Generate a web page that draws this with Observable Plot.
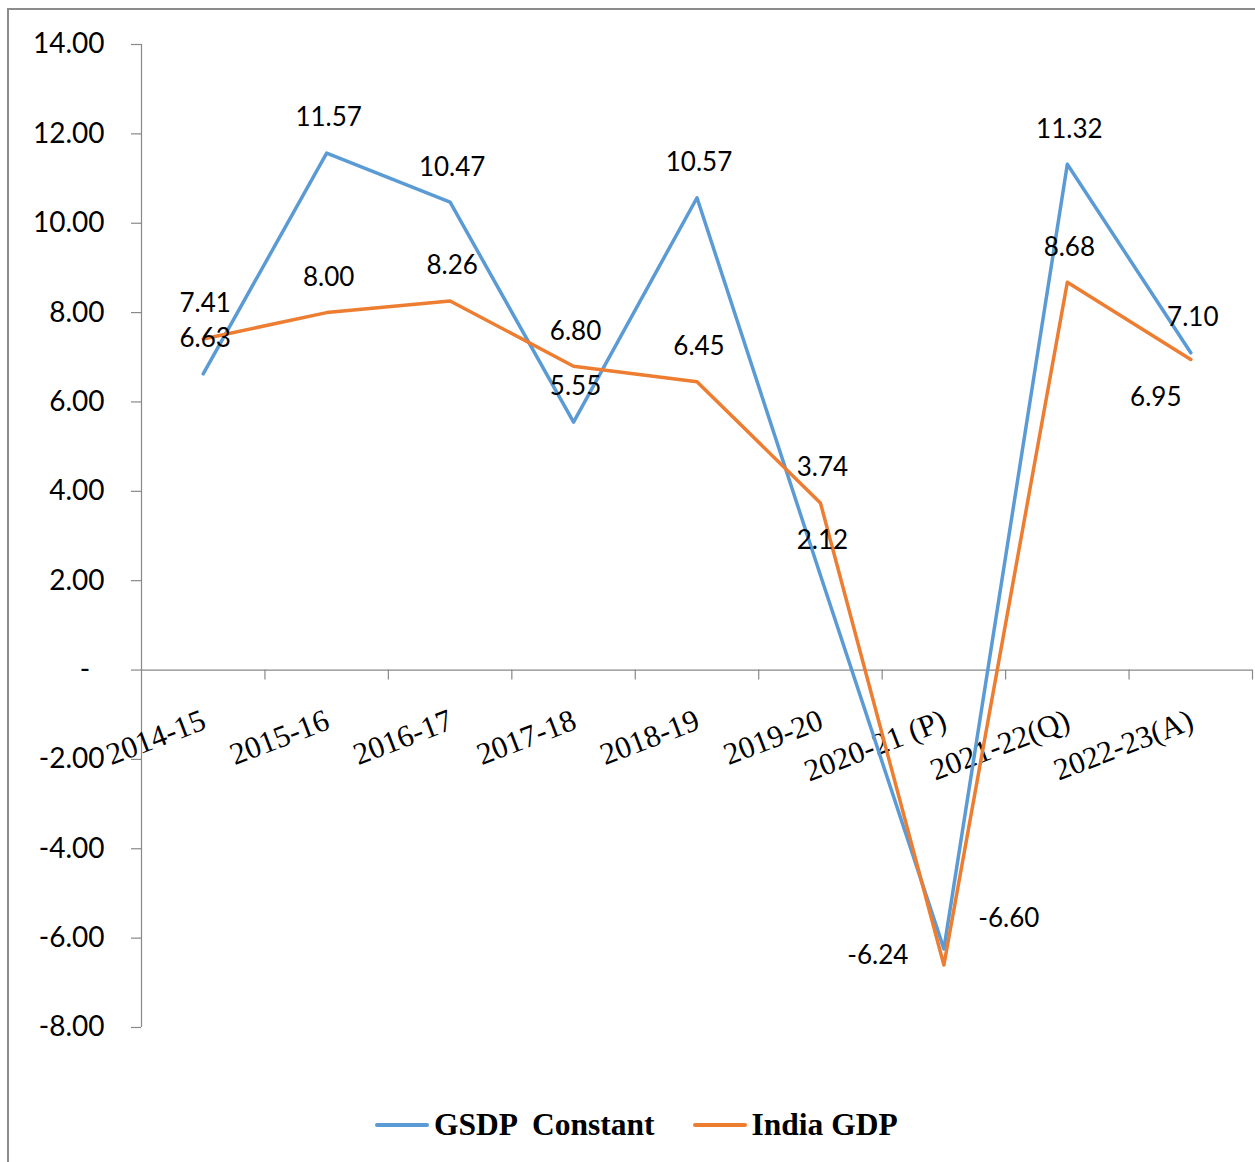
<!DOCTYPE html>
<html>
<head>
<meta charset="utf-8">
<script src="https://cdn.jsdelivr.net/npm/d3@7"></script>
<script src="https://cdn.jsdelivr.net/npm/@observablehq/plot@0.6"></script>
<style>
  html, body { margin: 0; padding: 0; background: white; }
  #wrap { position: relative; width: 1255px; height: 1162px; overflow: hidden; }
  #frame { position: absolute; left: 7px; top: 8px; width: 1260px; height: 1170px;
           border-left: 2px solid #8c8c8c; border-top: 2px solid #8c8c8c; box-sizing: border-box; }
  #chart { position: absolute; left: 0; top: 0; }
  #legend { position: absolute; left: 375px; top: 1104px; height: 42px; display: flex; align-items: center;
            font-family: "Liberation Serif", serif; font-weight: bold; font-size: 31.5px; color: #000; white-space: pre; }
  .sw { width: 54px; height: 3.5px; border-radius: 2px; margin-right: 5px; }
  .item { display: flex; align-items: center; }
</style>
</head>
<body>
<div id="wrap">
  <div id="frame"></div>
  <div id="chart"></div>
  <div id="legend"></div>
</div>
<script>
// ---- data ----
const categories = ["2014-15", "2015-16", "2016-17", "2017-18", "2018-19", "2019-20", "2020-21 (P)", "2021-22(Q)", "2022-23(A)"];
const gsdpConstant = [6.63, 11.57, 10.47, 5.55, 10.57, 2.12, -6.24, 11.32, 7.10];
const indiaGDP = [7.41, 8.00, 8.26, 6.80, 6.45, 3.74, -6.60, 8.68, 6.95];
const yTicks = [-8, -6, -4, -2, 0, 2, 4, 6, 8, 10, 12, 14];
const seriesNames = ["GSDP  Constant", "India GDP"];
const seriesColors = ["#5B9BD5", "#ED7D31"];

const rows = categories.map((c, i) => ({cat: c, idx: i, gsdp: gsdpConstant[i], india: indiaGDP[i]}));
const boundaries = d3.range(1, categories.length + 1);
const xc = d => d.idx + 0.5;
const fmt = v => v.toFixed(2);
const labelFont = "Lato, 'Open Sans', sans-serif";

const chart = Plot.plot({
  width: 1255,
  height: 1090,
  marginLeft: 141,
  marginRight: 3,
  marginTop: 44,
  marginBottom: 63,
  style: {background: "transparent", fontFamily: labelFont, overflow: "visible"},
  x: {domain: [0, categories.length], axis: null},
  y: {domain: [-8, 14], axis: null},
  marks: [
    Plot.ruleY([0], {stroke: "#888", strokeWidth: 1.2}),
    Plot.ruleX([0], {stroke: "#888", strokeWidth: 1.2}),
    Plot.ruleX(boundaries, {x: d => d, y1: () => 0, y2: () => 0, insetBottom: -10, stroke: "#888", strokeWidth: 1.2}),
    Plot.axisY(yTicks, {
      anchor: "left", tickSize: 10, tickPadding: 27, stroke: "#888", strokeWidth: 1.2,
      fontSize: 28, fontFamily: labelFont, label: null,
      tickFormat: v => v === 0 ? "-\u00a0\u00a0" : fmt(v)
    }),
    Plot.text(rows, {
      x: xc, y: () => 0, text: "cat", rotate: -21, textAnchor: "end",
      dx: 1, dy: 49, fontSize: 31, fontFamily: "'Liberation Serif', serif", fill: "black"
    }),
    Plot.line(rows, {x: xc, y: "gsdp", stroke: seriesColors[0], strokeWidth: 3.5, strokeLinecap: "round", strokeLinejoin: "round"}),
    Plot.line(rows, {x: xc, y: "india", stroke: seriesColors[1], strokeWidth: 3.5, strokeLinecap: "round", strokeLinejoin: "round"}),
    // data labels, GSDP
    Plot.text(rows, {filter: d => d.cat !== "2020-21 (P)", x: xc, y: "gsdp", text: d => fmt(d.gsdp), dx: 2, dy: -35, fontSize: 26, fill: "black"}),
    Plot.text(rows, {filter: d => d.cat === "2020-21 (P)", x: xc, y: "gsdp", text: d => fmt(d.gsdp), dx: -66, dy: 7, fontSize: 26, fill: "black"}),
    // data labels, India
    Plot.text(rows, {filter: d => d.cat !== "2020-21 (P)" && d.cat !== "2022-23(A)", x: xc, y: "india", text: d => fmt(d.india), dx: 2, dy: -35, fontSize: 26, fill: "black"}),
    Plot.text(rows, {filter: d => d.cat === "2020-21 (P)", x: xc, y: "india", text: d => fmt(d.india), dx: 65, dy: -46, fontSize: 26, fill: "black"}),
    Plot.text(rows, {filter: d => d.cat === "2022-23(A)", x: xc, y: "india", text: d => fmt(d.india), dx: -35, dy: 38, fontSize: 26, fill: "black"})
  ]
});
document.getElementById("chart").appendChild(chart);

const legend = document.getElementById("legend");
seriesNames.forEach((name, i) => {
  const item = document.createElement("div");
  item.className = "item";
  if (i > 0) item.style.marginLeft = "38px";
  const sw = document.createElement("div");
  sw.className = "sw";
  sw.style.background = seriesColors[i];
  const t = document.createElement("span");
  t.textContent = name;
  item.appendChild(sw);
  item.appendChild(t);
  legend.appendChild(item);
});
</script>
</body>
</html>
